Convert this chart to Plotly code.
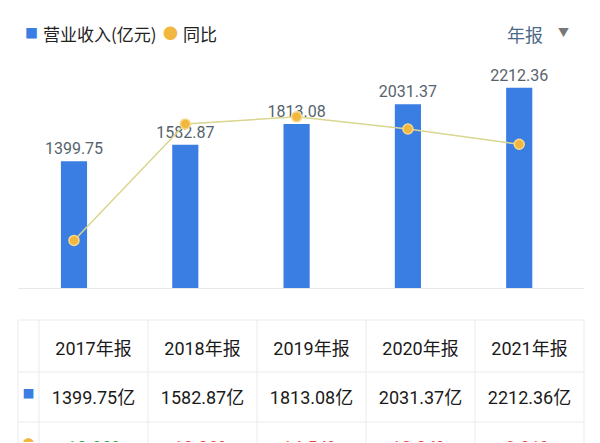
import plotly.graph_objects as go

years = ["2017年报", "2018年报", "2019年报", "2020年报", "2021年报"]
revenue = [1399.75, 1582.87, 1813.08, 2031.37, 2212.36]
yoy = [-10.83, 13.08, 14.54, 12.04, 8.91]
revenue_labels = ["1399.75", "1582.87", "1813.08", "2031.37", "2212.36"]
revenue_cells = ["1399.75亿", "1582.87亿", "1813.08亿", "2031.37亿", "2212.36亿"]
yoy_cells = ["-10.83%", "13.08%", "14.54%", "12.04%", "8.91%"]

BLUE = "#3a7de3"
YELLOW = "#f2b73e"
LINEC = "#d9d690"
GRID = "#ebebeb"
FONT = "Roboto, 'Noto Sans CJK SC', sans-serif"
CJK = "Roboto, 'Noto Sans CJK SC', sans-serif"
H = 443.0


def py(px):
    return 1 - px / H


fig = go.Figure()

fig.add_trace(go.Bar(
    x=years, y=revenue, name="营业收入(亿元)",
    marker=dict(color=BLUE, line=dict(width=0)),
    width=0.235,
    text=revenue_labels, textposition="outside", cliponaxis=False,
    constraintext="none",
    textfont=dict(family=FONT, size=16, color="#56636d"),
    showlegend=False,
))

fig.add_trace(go.Scatter(
    x=years, y=yoy, yaxis="y2", mode="lines+markers", name="同比",
    line=dict(color=LINEC, width=1.5),
    marker=dict(color=YELLOW, size=10, line=dict(color="#f7d98e", width=1.5)),
    showlegend=False, cliponaxis=False,
))

# table (grid lines drawn as layout shapes so text can sit centred in rows)
col_widths = [21] + [109] * 5
fig.add_trace(go.Table(
    domain=dict(x=[18 / 600, 584 / 600], y=[0, py(333)]),
    columnwidth=col_widths,
    header=dict(
        values=[""] + years,
        height=49,
        fill_color="rgba(0,0,0,0)",
        line=dict(color="rgba(0,0,0,0)", width=0),
        font=dict(family=CJK, size=18, color="#1a1a1a"),
        align="center",
    ),
    cells=dict(
        values=[["■", "●"]] + [[revenue_cells[i], yoy_cells[i]] for i in range(5)],
        height=50,
        fill_color="rgba(0,0,0,0)",
        line=dict(color="rgba(0,0,0,0)", width=0),
        font=dict(
            family=CJK, size=[12, 18, 18, 18, 18, 18],
            color=[[BLUE, YELLOW]] + [["#1a1a1a", "#2e9e4f" if yoy[i] < 0 else "#e4473f"] for i in range(5)],
        ),
        align="center",
    ),
))

shapes = []
x0px, x1px = 18, 584
for ypx in [320, 372, 422]:
    shapes.append(dict(type="line", xref="paper", yref="paper",
                       x0=x0px / 600, x1=x1px / 600, y0=py(ypx), y1=py(ypx),
                       line=dict(color=GRID, width=1), layer="below"))
xs = [x0px]
for w in col_widths:
    xs.append(xs[-1] + w)
for xpx in xs:
    shapes.append(dict(type="line", xref="paper", yref="paper",
                       x0=xpx / 600, x1=xpx / 600, y0=py(320), y1=0,
                       line=dict(color=GRID, width=1), layer="below"))

annotations = [
    dict(text="■", x=31 / 600, y=py(34), xref="paper", yref="paper",
         xanchor="center", yanchor="middle", showarrow=False,
         font=dict(family=CJK, size=13, color=BLUE)),
    dict(text="营业收入(亿元)", x=41 / 600, y=py(34), xref="paper", yref="paper",
         xanchor="left", yanchor="middle", showarrow=False,
         font=dict(family="'Noto Sans CJK SC', sans-serif", size=17, color="#222222")),
    dict(text="●", x=171 / 600, y=py(34), xref="paper", yref="paper",
         xanchor="center", yanchor="middle", showarrow=False,
         font=dict(family=CJK, size=15, color=YELLOW)),
    dict(text="同比", x=181 / 600, y=py(34), xref="paper", yref="paper",
         xanchor="left", yanchor="middle", showarrow=False,
         font=dict(family="'Noto Sans CJK SC', sans-serif", size=17, color="#222222")),
    dict(text="年报", x=545 / 600, y=py(34), xref="paper", yref="paper",
         xanchor="right", yanchor="middle", showarrow=False,
         font=dict(family="'Noto Sans CJK SC', sans-serif", size=18, color="#4c6a86")),
    dict(text="▼", x=563 / 600, y=py(34), xref="paper", yref="paper",
         xanchor="center", yanchor="middle", showarrow=False,
         font=dict(family=CJK, size=11, color="#777777")),
]

fig.update_layout(
    width=600, height=443,
    margin=dict(l=0, r=0, t=0, b=0),
    paper_bgcolor="white", plot_bgcolor="white",
    font=dict(family=CJK),
    showlegend=False,
    xaxis=dict(
        domain=[18 / 600, 584 / 600],
        range=[-0.503, 4.582],
        showticklabels=False, showgrid=False, zeroline=False,
        showline=True, linecolor="#e8e8e8", linewidth=1, ticks="",
    ),
    yaxis=dict(
        domain=[py(288), py(60)],
        range=[0, 2520], visible=False, showgrid=False,
    ),
    yaxis2=dict(
        domain=[py(288), py(60)],
        overlaying="y", range=[-20.6, 26.2], visible=False, showgrid=False,
    ),
    shapes=shapes,
    annotations=annotations,
)

fig.write_html("out.html")
